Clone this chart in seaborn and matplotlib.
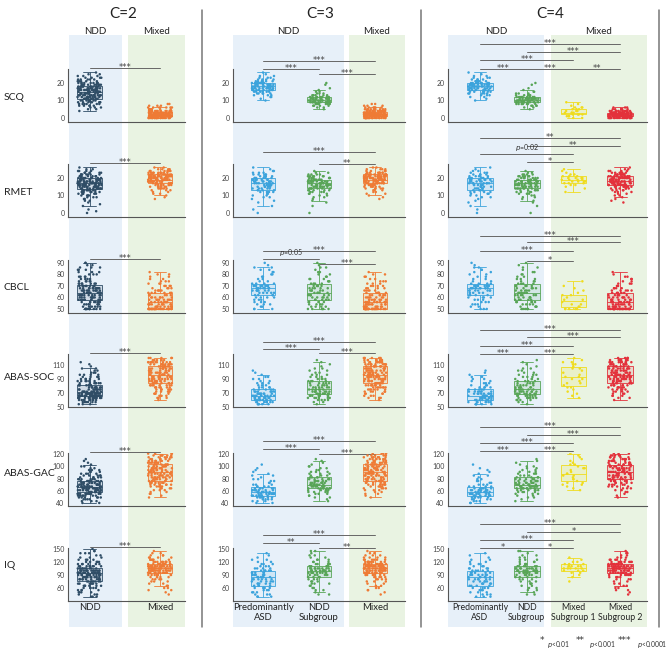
import numpy as np
import pandas as pd
import matplotlib
matplotlib.use("Agg")
import matplotlib.pyplot as plt
from matplotlib.patches import Rectangle
from matplotlib.lines import Line2D
from matplotlib.colors import to_rgba
import seaborn as sns

# ---------------------------------------------------------------------------
# data: score value (bin) and how many participants sit at that value,
# read off the strips of each group
# ---------------------------------------------------------------------------
C2_GROUPS = ['NDD', 'Mixed']
C3_GROUPS = ['Predominantly\nASD', 'NDD\nSubgroup', 'Mixed']
C4_GROUPS = ['Predominantly\nASD', 'NDD\nSubgroup', 'Mixed\nSubgroup 1', 'Mixed\nSubgroup 2']

SCQ_BINS = [0, 1, 2, 3, 4, 5, 6, 7, 8, 9, 10, 11, 12, 13, 14, 15, 16, 17, 18, 19, 20,
            21, 22, 23, 24, 25, 26]
SCQ_NDD = [0, 0, 0, 0, 1, 2, 3, 5, 6, 8, 9, 10, 12, 13, 13, 12, 12, 11, 10, 9, 8, 6, 5, 4, 3, 2, 1]
SCQ_MIXED = [22, 30, 32, 24, 16, 9, 6, 3, 2, 0, 0, 0, 0, 0, 0, 0, 0, 0, 0, 0, 0, 0, 0, 0, 0, 0, 0]
SCQ_ASD = [0, 0, 0, 0, 0, 0, 0, 0, 0, 0, 1, 1, 2, 3, 5, 6, 8, 10, 11, 10, 8, 6, 4, 3, 2, 1, 1]
SCQ_NDDSUB = [0, 0, 0, 0, 0, 1, 2, 4, 7, 12, 14, 12, 8, 5, 3, 2, 1, 1, 0, 1, 1, 0, 0, 0, 0, 0, 0]
SCQ_MIX1 = [2, 3, 4, 4, 3, 3, 3, 1, 1, 1, 0, 0, 0, 0, 0, 0, 0, 0, 0, 0, 0, 0, 0, 0, 0, 0, 0]
SCQ_MIX2 = [20, 30, 32, 22, 12, 6, 3, 0, 0, 0, 0, 0, 0, 0, 0, 0, 0, 0, 0, 0, 0, 0, 0, 0, 0, 0, 0]

RMET_BINS = SCQ_BINS
RMET_NDD = [1, 1, 1, 0, 1, 1, 1, 2, 2, 3, 4, 5, 7, 8, 10, 11, 12, 13, 13, 12, 11, 9, 7, 5, 4, 2, 1]
RMET_MIXED = [0, 0, 0, 0, 0, 0, 0, 0, 1, 1, 1, 2, 2, 3, 5, 6, 8, 10, 12, 14, 14, 13, 12, 9, 6, 4, 2]
RMET_ASD = [1, 0, 1, 0, 1, 0, 1, 1, 1, 2, 2, 3, 4, 4, 5, 5, 6, 7, 7, 7, 6, 5, 4, 3, 2, 1, 1]
RMET_NDDSUB = [1, 0, 0, 0, 1, 0, 1, 1, 1, 2, 2, 3, 4, 5, 7, 8, 9, 10, 10, 9, 7, 6, 4, 2, 1, 0, 0]
RMET_MIX1 = [0, 0, 0, 0, 0, 0, 0, 0, 0, 0, 0, 0, 1, 0, 1, 1, 2, 3, 4, 4, 4, 3, 2, 1, 1, 1, 0]
RMET_MIX2 = [0, 0, 0, 0, 0, 0, 1, 1, 1, 1, 2, 2, 3, 4, 6, 8, 10, 12, 13, 13, 12, 10, 8, 6, 4, 2, 1]

CBCL_BINS = [50, 52, 54, 56, 58, 60, 62, 64, 66, 68, 70, 72, 74, 76, 78, 80, 82, 84, 86, 88, 90]
CBCL_NDD = [12, 6, 7, 8, 9, 10, 11, 12, 12, 11, 9, 7, 5, 4, 4, 3, 3, 3, 3, 2, 2]
CBCL_MIXED = [30, 10, 10, 9, 8, 7, 6, 6, 5, 4, 4, 3, 3, 2, 2, 2, 1, 0, 0, 0, 0]
CBCL_ASD = [3, 2, 3, 3, 3, 4, 4, 5, 7, 10, 10, 4, 2, 2, 2, 2, 2, 2, 2, 1, 1]
CBCL_NDDSUB = [6, 4, 4, 5, 5, 5, 6, 6, 5, 5, 5, 4, 3, 3, 2, 2, 2, 1, 2, 1, 1]
CBCL_MIX1 = [5, 2, 2, 1, 2, 1, 2, 1, 1, 1, 1, 0, 1, 0, 0, 0, 0, 0, 0, 0, 0]
CBCL_MIX2 = [26, 9, 9, 8, 7, 7, 6, 5, 5, 4, 3, 3, 2, 2, 2, 1, 1, 0, 0, 0, 0]

SOC_BINS = [54, 57, 60, 63, 66, 69, 72, 75, 78, 81, 84, 87, 90, 93, 96, 99, 102, 105, 108,
            111, 114, 117, 120]
SOC_NDD = [3, 6, 10, 16, 20, 16, 10, 10, 9, 8, 7, 6, 5, 4, 4, 3, 2, 2, 1, 1, 1, 0, 0]
SOC_MIXED = [0, 0, 1, 3, 3, 4, 5, 6, 7, 8, 9, 9, 10, 10, 10, 9, 9, 9, 10, 10, 10, 8, 5]
SOC_ASD = [5, 7, 9, 10, 10, 8, 6, 5, 4, 3, 3, 2, 2, 2, 1, 1, 1, 0, 0, 0, 0, 0, 0]
SOC_NDDSUB = [1, 2, 4, 6, 7, 8, 8, 7, 6, 5, 5, 4, 4, 3, 3, 2, 2, 2, 1, 1, 1, 1, 0]
SOC_MIX1 = [0, 0, 0, 1, 1, 1, 1, 1, 2, 1, 2, 1, 2, 2, 1, 1, 1, 2, 1, 2, 2, 1, 1]
SOC_MIX2 = [0, 0, 1, 2, 3, 3, 4, 5, 6, 7, 8, 8, 9, 9, 9, 8, 8, 8, 9, 9, 9, 7, 4]

GAC_BINS = [40, 43, 46, 49, 52, 55, 58, 61, 64, 67, 70, 73, 76, 79, 82, 85, 88, 91, 94, 97,
            100, 103, 106, 109, 112, 115, 118, 121]
GAC_NDD = [2, 3, 4, 6, 8, 10, 11, 12, 13, 12, 11, 9, 8, 6, 5, 5, 4, 3, 3, 2, 2, 1, 1, 1, 1, 0, 0, 0]
GAC_MIXED = [0, 0, 0, 1, 1, 2, 2, 3, 4, 5, 6, 6, 7, 7, 8, 8, 8, 9, 8, 8, 8, 7, 7, 7, 6, 6, 6, 4]
GAC_ASD = [2, 3, 4, 6, 8, 9, 9, 8, 6, 4, 3, 2, 2, 2, 1, 2, 1, 1, 1, 1, 0, 1, 0, 0, 0, 0, 0, 0]
GAC_NDDSUB = [0, 1, 1, 2, 2, 3, 4, 6, 8, 9, 8, 7, 6, 5, 4, 3, 3, 3, 2, 2, 2, 1, 1, 1, 1, 0, 0, 0]
GAC_MIX1 = [0, 0, 0, 0, 0, 0, 0, 1, 1, 1, 2, 2, 1, 2, 1, 2, 2, 1, 1, 2, 1, 2, 1, 1, 1, 1, 1, 1]
GAC_MIX2 = [0, 0, 0, 1, 1, 1, 2, 2, 3, 4, 5, 5, 6, 6, 7, 7, 7, 8, 7, 7, 7, 6, 6, 6, 5, 5, 5, 3]

IQ_BINS = [40, 45, 50, 55, 60, 65, 70, 75, 80, 85, 90, 95, 100, 105, 110, 115, 120,
           125, 130, 135, 140, 145, 150]
IQ_NDD = [3, 3, 4, 4, 5, 6, 7, 8, 10, 11, 13, 16, 15, 10, 8, 6, 5, 4, 3, 2, 3, 2, 1]
IQ_MIXED = [0, 1, 1, 2, 2, 2, 2, 3, 4, 5, 8, 11, 16, 20, 20, 14, 9, 6, 4, 3, 2, 1, 0]
IQ_ASD = [3, 3, 3, 3, 4, 4, 5, 5, 6, 6, 6, 5, 5, 4, 3, 3, 2, 2, 1, 1, 1, 0, 0]
IQ_NDDSUB = [0, 2, 1, 2, 2, 2, 3, 3, 3, 4, 6, 10, 12, 9, 6, 4, 3, 3, 2, 2, 1, 2, 0]
IQ_MIX1 = [0, 0, 0, 0, 0, 0, 0, 1, 0, 1, 1, 2, 3, 5, 5, 3, 2, 1, 1, 0, 0, 0, 0]
IQ_MIX2 = [0, 1, 1, 2, 2, 2, 2, 2, 3, 4, 7, 10, 14, 18, 17, 12, 8, 5, 3, 2, 2, 1, 0]

MEASURES = ['SCQ', 'RMET', 'CBCL', 'ABAS-SOC', 'ABAS-GAC', 'IQ']
BINS = [SCQ_BINS, RMET_BINS, CBCL_BINS, SOC_BINS, GAC_BINS, IQ_BINS]
COUNTS = [
    [SCQ_NDD, SCQ_MIXED, SCQ_ASD, SCQ_NDDSUB, SCQ_MIX1, SCQ_MIX2],
    [RMET_NDD, RMET_MIXED, RMET_ASD, RMET_NDDSUB, RMET_MIX1, RMET_MIX2],
    [CBCL_NDD, CBCL_MIXED, CBCL_ASD, CBCL_NDDSUB, CBCL_MIX1, CBCL_MIX2],
    [SOC_NDD, SOC_MIXED, SOC_ASD, SOC_NDDSUB, SOC_MIX1, SOC_MIX2],
    [GAC_NDD, GAC_MIXED, GAC_ASD, GAC_NDDSUB, GAC_MIX1, GAC_MIX2],
    [IQ_NDD, IQ_MIXED, IQ_ASD, IQ_NDDSUB, IQ_MIX1, IQ_MIX2],
]
YLIMS = [(-2.3, 28), (-2.3, 28), (46.5, 92.5), (50, 125.7), (35, 122), (30, 152)]
YTICKS = [[0, 10, 20], [0, 10, 20], [50, 60, 70, 80, 90], [50, 70, 90, 110],
          [40, 60, 80, 100, 120], [60, 90, 120, 150]]

# significance brackets: (group i, group j, label, px above axes top)
SIG_C2 = [[(0, 1, '***', 1)]] * 6
SIG_C3 = [
    [(0, 2, '***', 8), (0, 1, '***', 0), (1, 2, '***', -5)],
    [(0, 2, '***', 12), (1, 2, '**', 0)],
    [(0, 2, '***', 9), (0, 1, 'p=0.05', 1), (1, 2, '***', -4)],
    [(0, 2, '***', 12), (0, 1, '***', 5), (1, 2, '***', 1)],
    [(0, 2, '***', 12), (0, 1, '***', 4), (1, 2, '***', -1)],
    [(0, 2, '***', 13), (0, 1, '**', 5), (1, 2, '**', 0)],
]
SIG_C4 = [
    [(0, 3, '***', 25), (1, 3, '***', 17), (0, 2, '***', 9), (0, 1, '***', 0), (1, 2, '***', 0), (2, 3, '**', 0)],
    [(0, 3, '**', 26), (1, 3, '**', 18), (0, 2, 'p=0.02', 10), (1, 2, '*', 2)],
    [(0, 3, '***', 24), (1, 3, '***', 18), (0, 2, '***', 9), (1, 2, '*', -1)],
    [(0, 3, '***', 24), (1, 3, '***', 17), (0, 2, '***', 8), (0, 1, '***', 0), (1, 2, '***', 0)],
    [(0, 3, '***', 26), (1, 3, '***', 18), (0, 2, '***', 10), (0, 1, '***', 2), (1, 2, '***', 2)],
    [(0, 3, '***', 24), (1, 3, '*', 16), (0, 2, '***', 8), (0, 1, '*', 0), (1, 2, '*', 0)],
]

NAVY = '#2f4d66'
ORANGE = '#ef7b35'
LBLUE = '#3ba3dc'
GREEN = '#58a557'
YELLOW = '#f0dc1c'
RED = '#e3313b'
BG_BLUE = '#e7f0f9'
BG_GREEN = '#e9f3e2'

# ---------------------------------------------------------------------------
# layout (pixels of the 666 x 651 canvas)
# ---------------------------------------------------------------------------
W, H = 666, 651
ROW_BOTTOM = [122, 217, 313, 407, 506, 601]
ROW_LABEL_Y = [98, 192, 287, 378, 473, 565]
AX_H = 53
BG_TOP, BG_BOT = 35, 627
STAR_FONT = ['DejaVu Sans']

PANELS = [
    dict(title='C=2', tx=123, left=68, right=185, c0=89.5, step=70.5, box=0.35, jit=0.17,
         groups=C2_GROUPS, idx=[0, 1], colors=[NAVY, ORANGE], sig=SIG_C2, xfs=6.8,
         bg=[(69, 122, BG_BLUE, 'NDD'), (128, 185, BG_GREEN, 'Mixed')]),
    dict(title='C=3', tx=320, left=233, right=405, c0=263, step=56, box=0.43, jit=0.2,
         groups=C3_GROUPS, idx=[2, 3, 1], colors=[LBLUE, GREEN, ORANGE], sig=SIG_C3, xfs=6.8,
         bg=[(233, 344, BG_BLUE, 'NDD'), (349, 405, BG_GREEN, 'Mixed')]),
    dict(title='C=4', tx=550, left=448, right=647, c0=480, step=46.7, box=0.55, jit=0.25,
         groups=C4_GROUPS, idx=[2, 3, 4, 5], colors=[LBLUE, GREEN, YELLOW, RED], sig=SIG_C4, xfs=6.3,
         bg=[(448, 544, BG_BLUE, 'NDD'), (551, 647, BG_GREEN, 'Mixed')]),
]


def fx(px):
    return px / W


def fy(py):
    return 1 - py / H


def expand(bins, counts):
    return np.repeat(np.asarray(bins, dtype=float), counts)


sns.set_style('white')
plt.rcParams['font.family'] = ['Lato', 'DejaVu Sans']
np.random.seed(7)

fig = plt.figure(figsize=(W / 100, H / 100), dpi=100)

for p in PANELS:
    for x0, x1, col, name in p['bg']:
        fig.add_artist(Rectangle((fx(x0), fy(BG_BOT)), (x1 - x0) / W, (BG_BOT - BG_TOP) / H,
                                 transform=fig.transFigure, facecolor=col, edgecolor='none', zorder=-5))
        fig.text(fx((x0 + x1) / 2), fy(31), name, ha='center', va='center', fontsize=7, color='#222')
    fig.text(fx(p['tx']), fy(14), p['title'], ha='center', va='center', fontsize=11, color='#222')

for x in [202, 421, 659]:
    fig.add_artist(Line2D([fx(x), fx(x)], [fy(10), fy(627)], transform=fig.transFigure,
                          color='#777', lw=1.1))

for r, meas in enumerate(MEASURES):
    fig.text(fx(4), fy(ROW_LABEL_Y[r]), meas, ha='left', va='center', fontsize=7.5, color='#222')
    for p in PANELS:
        groups = p['groups']
        samples = [expand(BINS[r], COUNTS[r][k]) for k in p['idx']]
        df = pd.DataFrame({
            'group': np.concatenate([[g] * len(s) for g, s in zip(groups, samples)]),
            'value': np.concatenate(samples),
        })
        pal = dict(zip(groups, p['colors']))

        ax = fig.add_axes([fx(p['left']), fy(ROW_BOTTOM[r]), (p['right'] - p['left']) / W, AX_H / H])
        ax.set_facecolor('none')

        for g, c in zip(groups, p['colors']):
            n0 = len(ax.patches)
            sns.boxplot(data=df[df['group'] == g], x='group', y='value', order=groups,
                        color=c, linecolor=c, saturation=1, width=p['box'], linewidth=0.6,
                        showfliers=False, ax=ax)
            for patch in ax.patches[n0:]:
                patch.set_facecolor(to_rgba(c, 0.13))
                patch.set_edgecolor(c)
        sns.stripplot(data=df, x='group', y='value', hue='group', order=groups, hue_order=groups,
                      palette=pal, size=1.8, jitter=p['jit'], linewidth=0, legend=False,
                      ax=ax, zorder=3)

        ax.set_xlim((p['left'] - p['c0']) / p['step'], (p['right'] - p['c0']) / p['step'])
        ax.set_ylim(*YLIMS[r])
        ax.set_yticks(YTICKS[r])
        ax.set_xlabel('')
        ax.set_ylabel('')
        ax.tick_params(axis='y', labelsize=5, length=1.5, width=0.5, pad=1, colors='#444')
        for s in ['top', 'right']:
            ax.spines[s].set_visible(False)
        for s in ['left', 'bottom']:
            ax.spines[s].set_color('#555')
            ax.spines[s].set_linewidth(0.8)
        if r == len(MEASURES) - 1:
            ax.set_xticks(range(len(groups)))
            ax.set_xticklabels(groups, fontsize=p['xfs'], color='#222', linespacing=1.15)
            ax.tick_params(axis='x', length=0, pad=1.5)
        else:
            ax.set_xticks([])

        tr = ax.get_xaxis_transform()
        for i, j, lab, off in p['sig'][r]:
            yy = 1 + off / AX_H
            ax.plot([i, j], [yy, yy], transform=tr, color='#666', lw=0.7, clip_on=False)
            if lab.startswith('p'):
                ax.text((i + j) / 2, yy + 0.5 / AX_H, r'$\it{p}$' + lab[1:], transform=tr,
                        ha='center', va='bottom', fontsize=5, color='#333')
            else:
                ax.text((i + j) / 2, yy + 0.6 / AX_H, lab, transform=tr, ha='center',
                        va='center', fontsize=6, color='#444', family=STAR_FONT)

# significance key
for sx, stars, px, ptxt in [(540, '*', 547, '<0.01'), (576, '**', 589, '<0.001'),
                            (618, '***', 637, '<0.0001')]:
    fig.text(fx(sx), fy(641), stars, ha='left', va='center', fontsize=6.5, color='#333',
             family=STAR_FONT)
    fig.text(fx(px), fy(644), r'$\it{p}$' + ptxt, ha='left', va='center', fontsize=4.8, color='#333')

fig.savefig('out.png', dpi=100)
